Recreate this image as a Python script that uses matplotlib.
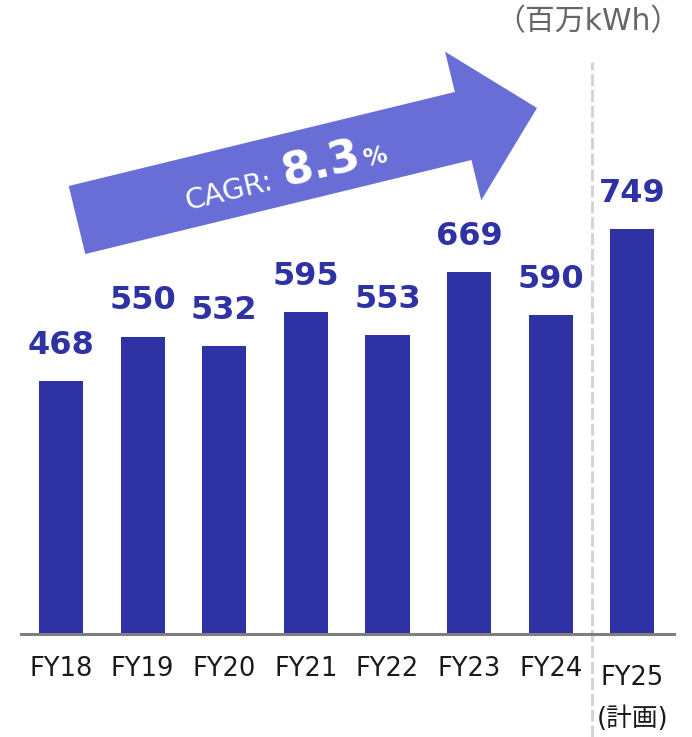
import numpy as np
import matplotlib
matplotlib.use("Agg")
import matplotlib.pyplot as plt
from matplotlib.patches import FancyArrow

plt.rcParams["font.family"] = ["DejaVu Sans", "Noto Sans CJK JP"]

years  = ["FY18", "FY19", "FY20", "FY21", "FY22", "FY23", "FY24", "FY25\n(計画)"]
values = [468, 550, 532, 595, 553, 669, 590, 749]
unit_label = "（百万kWh）"
cagr_text = ("CAGR:", "8.3", "%")

bar_color   = "#2e32a4"
arrow_color = "#686ed6"

W, H, DPI = 692, 737, 100
fig = plt.figure(figsize=(W / DPI, H / DPI), dpi=DPI)
ax = fig.add_axes([21 / W, 103 / H, 653 / W, 634 / H])

x = np.arange(len(values))
bars = ax.bar(x, values, width=0.54, color=bar_color, zorder=2)

# Werte über den Balken
for xi, v in zip(x, values):
    ax.annotate(f"{v}", xy=(xi, v), xytext=(0, 36), textcoords="offset pixels",
                ha="center", va="center", fontsize=23, fontweight="bold",
                color=bar_color)

ax.set_xlim(-0.49, 7.51)
ax.set_ylim(0, 1173)
ax.set_xticks(x, years, fontsize=18.5, color="#1a1a1a", linespacing=1.75)
ax.tick_params(axis="x", length=0, pad=16)
ax.xaxis.get_major_ticks()[-1].set_pad(22)
ax.set_yticks([])
for s in ["top", "right", "left"]:
    ax.spines[s].set_visible(False)
ax.spines["bottom"].set_color("#7f7f7f")
ax.spines["bottom"].set_linewidth(2.2)

# Trennlinie Ist / Plan
ax.axvline(6.51, ymin=-0.1625, ymax=0.902, color="#d4d4d4", lw=2.2,
           linestyle=(0, (3.9, 1.3)), clip_on=False, zorder=1)

# Einheit
fig.text(680 / W, 1 - 22 / H, unit_label, ha="right", va="center",
         fontsize=21.5, color="#666666")

# CAGR-Pfeil (Pixelkoordinaten über dpi_scale_trans)
px = lambda v: v / DPI
tail = np.array([77, H - 220])
tip = np.array([537, H - 108])
arrow = FancyArrow(px(tail[0]), px(tail[1]), px(tip[0] - tail[0]), px(tip[1] - tail[1]),
                   width=px(70), head_width=px(153), head_length=px(76),
                   length_includes_head=True, color=arrow_color, lw=0,
                   transform=fig.dpi_scale_trans)
fig.add_artist(arrow)

direction = (tip - tail) / np.linalg.norm(tip - tail)
angle = np.degrees(np.arctan2(direction[1], direction[0]))
start = np.array([187, H - 210])
for dist, s, size, weight in zip([0, 101, 183], cagr_text, [20.5, 32.5, 17],
                                 ["normal", "bold", "bold"]):
    pos = start + dist * direction
    fig.text(px(pos[0]), px(pos[1]), s, transform=fig.dpi_scale_trans,
             rotation=angle, rotation_mode="anchor", ha="left", va="baseline",
             fontsize=size, fontweight=weight, color="white")

plt.savefig("out.png", dpi=DPI)
plt.close()
